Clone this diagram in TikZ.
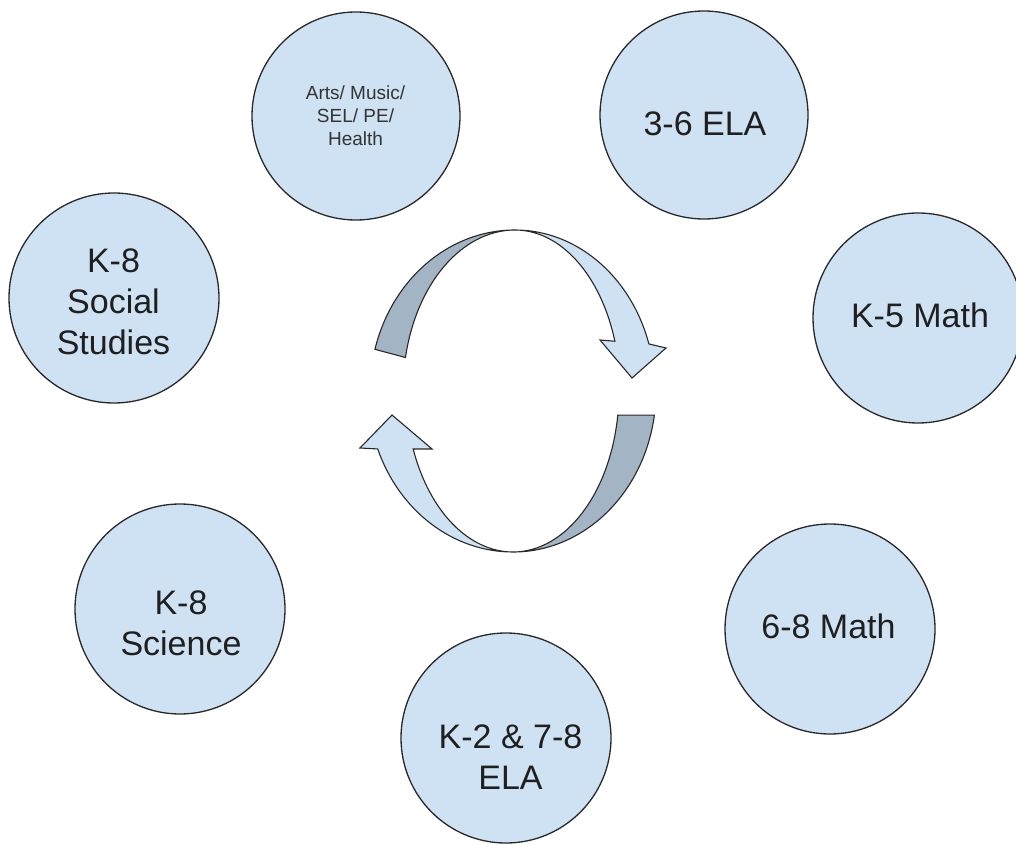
\documentclass[tikz,border=0pt]{standalone}
\usepackage{fontspec}
\setmainfont{Liberation Sans}
\usetikzlibrary{calc}
\definecolor{bubblefill}{RGB}{207,226,243}
\definecolor{bandDark}{RGB}{163,180,196}
\definecolor{edgecol}{RGB}{40,40,40}
\begin{document}
\begin{tikzpicture}[x=1pt,y=1pt,
  bubble/.style={circle,draw=edgecol,line width=1.3pt,fill=bubblefill,minimum size=210pt,inner sep=0pt},
  bigtxt/.style={align=center,font=\fontsize{34}{41}\selectfont,text=black!88,inner sep=0pt},
  smalltxt/.style={align=center,font=\fontsize{19}{23}\selectfont,text=black!80,inner sep=0pt},
  band/.style={draw=edgecol,line width=1.1pt,line join=miter}]
\useasboundingbox (0,0) rectangle (1016,844);
\clip (0,0) rectangle (1016,844);

% circles
\node[bubble,minimum size=208pt] (arts) at (356,728) {};
\node[bubble,minimum size=208pt] (ela36) at (704,729) {};
\node[bubble] (k5) at (918,526) {};
\node[bubble] (ss) at (114,546) {};
\node[bubble] (sci) at (180,235) {};
\node[bubble] (m68) at (830,215) {};
\node[bubble] (k2) at (506,106) {};

% texts
\node[smalltxt] (artsT) at (355.5,728.5) {Arts/ Music/\\SEL/ PE/\\Health};
\node[bigtxt] (ela36T) at (705,720.5) {3-6 ELA};
\node[bigtxt] (k5T) at (920,529) {K-5 Math};
\node[bigtxt] (ssT) at (113.5,542) {K-8\\Social\\Studies};
\node[bigtxt] (sciT) at (181,220.5) {K-8\\Science};
\node[bigtxt] (m68T) at (828.5,217.5) {6-8 Math};
\node[bigtxt] (k2T) at (510.5,86.5) {K-2 \& 7-8\\ELA};

% cycle arrows
\coordinate (U) at (515,453);
\coordinate (L) at (513,453);

\draw[band,fill=bandDark] ($(U)+(165:145 and 161)$)
  arc[start angle=165,end angle=90,x radius=145,y radius=161]
  arc[start angle=90,end angle=168,x radius=112,y radius=161] -- cycle;
\draw[band,fill=bubblefill] ($(U)+(90:140 and 161)$)
  arc[start angle=90,end angle=17,x radius=140,y radius=161]
  -- (666,496) -- (632,466) -- (600,504)
  -- ($(U)+(18:105 and 161)$)
  arc[start angle=18,end angle=90,x radius=105,y radius=161] -- cycle;

\draw[band,fill=bandDark] ($(L)+(-8.6:143 and 161)$)
  arc[start angle=-8.6,end angle=-90,x radius=143,y radius=161]
  arc[start angle=-90,end angle=-8.6,x radius=106,y radius=161] -- cycle;
\draw[band,fill=bubblefill] ($(L)+(270:145 and 161)$)
  arc[start angle=270,end angle=201.1,x radius=145,y radius=161]
  -- (360,396) -- (392,429) -- (432,395)
  -- ($(L)+(201.1:107 and 161)$)
  arc[start angle=201.1,end angle=270,x radius=107,y radius=161] -- cycle;
\end{tikzpicture}
\end{document}
